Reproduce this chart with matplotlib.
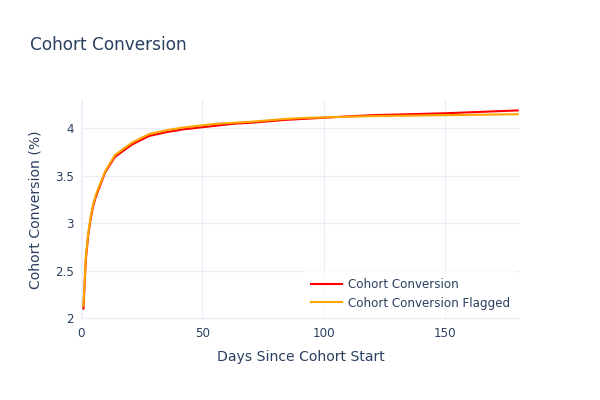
import matplotlib
matplotlib.use("Agg")
import matplotlib.pyplot as plt
from matplotlib.ticker import FixedLocator

plt.rcParams['font.family'] = ['DejaVu Sans']

# Data
days = [1, 2, 3, 4, 5, 6, 7, 10, 14, 21, 28, 35, 42, 49, 56, 63, 70, 84, 91, 105, 120, 150, 180]
conversion = [2.10, 2.62, 2.88, 3.05, 3.18, 3.27, 3.34, 3.54, 3.70, 3.83, 3.92, 3.96, 3.99,
              4.01, 4.03, 4.05, 4.06, 4.09, 4.10, 4.12, 4.14, 4.16, 4.19]
conversion_flagged = [2.13, 2.65, 2.90, 3.07, 3.20, 3.29, 3.36, 3.55, 3.72, 3.85, 3.94, 3.98, 4.01,
                      4.03, 4.05, 4.06, 4.07, 4.10, 4.11, 4.12, 4.13, 4.14, 4.15]
x_ticks = [0, 50, 100, 150]
y_ticks = [2, 2.5, 3, 3.5, 4]
y_tick_labels = ['2', '2.5', '3', '3.5', '4']

TEXT = '#2a3f5f'
GRID = '#ebf0f8'

fig = plt.figure(figsize=(6, 4), dpi=100)
ax = fig.add_axes([0.135, 0.2, 0.732, 0.55])

ax.plot(days, conversion, color='red', lw=1.5, label='Cohort Conversion', zorder=3)
ax.plot(days, conversion_flagged, color='orange', lw=1.5, label='Cohort Conversion Flagged', zorder=3)

ax.set_xlim(0, 181)
ax.set_ylim(1.98, 4.3)
ax.xaxis.set_major_locator(FixedLocator(x_ticks))
ax.set_yticks(y_ticks)
ax.set_yticklabels(y_tick_labels)

ax.grid(True, color=GRID, lw=1, zorder=0)
ax.axvline(0, color=GRID, lw=2, zorder=1)
for s in ax.spines.values():
    s.set_visible(False)
ax.tick_params(axis='both', length=0, colors=TEXT, labelsize=8.6, pad=5)

ax.set_xlabel('Days Since Cohort Start', color=TEXT, fontsize=10.1, labelpad=7)
ax.set_ylabel('Cohort Conversion (%)', color=TEXT, fontsize=10.1, labelpad=9)

fig.text(0.05, 0.888, 'Cohort Conversion', color=TEXT, fontsize=12.2, va='center', ha='left')

leg = ax.legend(loc='lower right', bbox_to_anchor=(0.993, 0.015), frameon=True, fontsize=8.6,
                handlelength=2.6, borderaxespad=0.0, labelspacing=0.45, handletextpad=0.5,
                borderpad=0.6)
leg.get_frame().set_facecolor('white')
leg.get_frame().set_alpha(0.8)
leg.get_frame().set_edgecolor('none')
leg.get_frame().set_boxstyle('square', pad=0.0)
for t in leg.get_texts():
    t.set_color(TEXT)

fig.savefig('out.png', dpi=100)
